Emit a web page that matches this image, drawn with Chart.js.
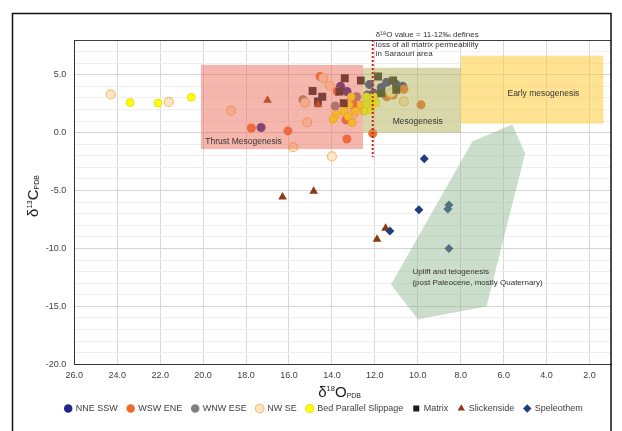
<!DOCTYPE html>
<html>
<head>
<meta charset="utf-8">
<script src="https://cdn.jsdelivr.net/npm/chart.js@4.4.1/dist/chart.umd.min.js"></script>
<style>
  body { margin: 0; background: #fff; }
  #wrap { position: relative; width: 622px; height: 431px; }
</style>
</head>
<body>
<div id="wrap"><canvas id="isoChart"></canvas></div>
<script>
// isotope values, pairs of [d18O, d13C]
const nneSsw = [[17.3, 0.45], [13.6, 4.0], [13.3, 3.55], [12.25, 4.15], [11.45, 4.35], [11.0, 4.15], [12.05, 3.4], [12.35, 3.25], [10.7, 4.0], [11.7, 3.9]];
const wswEne = [[17.75, 0.4], [16.05, 0.15], [13.3, -0.55], [12.1, -0.05], [14.55, 4.85], [13.75, 3.55], [13.35, 1.1], [10.65, 3.75], [9.85, 2.4], [11.15, 3.25], [11.45, 3.1], [13.0, 2.4]];
const wnwEse = [[15.35, 2.85], [13.85, 2.3], [12.85, 3.1]];
const nwSe = [[24.3, 3.3], [21.6, 2.65], [18.7, 1.9], [15.15, 0.9], [15.8, -1.25], [14.0, -2.05], [14.4, 4.7], [14.1, 4.05], [15.25, 2.6], [11.25, 3.45], [10.65, 2.7], [13.0, 1.6]];
const bedSlip = [[23.4, 2.6], [22.1, 2.55], [20.55, 3.05], [13.1, 3.1], [13.2, 2.4], [13.45, 1.85], [13.8, 1.55], [13.95, 1.15], [13.25, 1.4], [13.05, 0.85], [12.9, 1.85], [12.65, 2.4], [12.4, 3.1], [12.35, 2.4], [12.1, 2.7], [11.95, 2.55], [12.2, 1.95], [12.5, 1.85], [12.05, 3.1]];
const matrix = [[13.4, 4.7], [14.9, 3.6], [14.45, 3.1], [14.65, 2.7], [13.65, 3.55], [12.65, 4.5], [13.45, 2.55], [11.85, 4.85], [11.15, 4.5], [11.0, 3.7], [11.7, 3.4]];
const slickenside = [[17.0, 2.8], [14.65, 2.4], [16.3, -5.55], [14.85, -5.05], [11.5, -8.25], [11.9, -9.2]];
const speleothem = [[11.3, -8.5], [9.7, -2.25], [9.95, -6.65], [8.55, -6.25], [8.6, -6.6], [8.55, -10.0]];

const seriesNames = ['NNE SSW', 'WSW ENE', 'WNW ESE', 'NW SE', 'Bed Parallel Slippage', 'Matrix', 'Slickenside', 'Speleothem'];
const xTicks = [26, 24, 22, 20, 18, 16, 14, 12, 10, 8, 6, 4, 2];
const yTicks = [];
for (let v = -20; v <= 8; v++) yTicks.push(v);

// interpretation fields: [x from, x to, y top, y bottom]
const thrustBox = [20.1, 12.55, 5.85, -1.42];
const mesoBox = [12.55, 8.0, 5.6, 0.0];
const earlyBox = [8.0, 1.35, 6.65, 0.78];
const upliftPoly = [[5.6, 0.7], [5.0, -1.8], [6.8, -15.0], [10.0, -16.1], [11.25, -13.1], [7.45, -0.75]];
const permLine = [12.1, 8, -2.1];

const toPts = arr => arr.map(p => ({ x: p[0], y: p[1] }));

Chart.defaults.font.family = '"Liberation Sans", Arial, sans-serif';
Chart.defaults.font.size = 9;
Chart.defaults.color = '#404040';

function drawRich(ctx, parts, cx, base) {
    let w = 0;
    parts.forEach(p => {
        ctx.font = p[1] + 'px "Liberation Sans", Arial, sans-serif';
        w += ctx.measureText(p[0]).width;
    });
    let x = cx - w / 2;
    parts.forEach(p => {
        ctx.font = p[1] + 'px "Liberation Sans", Arial, sans-serif';
        ctx.fillText(p[0], x, base + p[2]);
        x += ctx.measureText(p[0]).width;
    });
}

const overlayPlugin = {
    id: 'overlay',
    beforeDraw(chart) {
        const ctx = chart.ctx;
        ctx.save();
        ctx.fillStyle = '#fff';
        ctx.fillRect(0, 0, chart.width, chart.height);
        ctx.restore();
    },
    afterDatasetsDraw(chart) {
        const { ctx, chartArea: a, scales: { x, y } } = chart;
        ctx.save();
        ctx.beginPath();
        ctx.rect(a.left, a.top, a.width, a.height);
        ctx.clip();

        function box(b, color) {
            const x1 = x.getPixelForValue(b[0]), x2 = x.getPixelForValue(b[1]);
            const y1 = y.getPixelForValue(b[2]), y2 = y.getPixelForValue(b[3]);
            ctx.fillStyle = color;
            ctx.fillRect(x1, y1, x2 - x1, y2 - y1);
        }
        box(thrustBox, 'rgba(234,104,84,0.48)');
        box(mesoBox, 'rgba(178,178,88,0.5)');
        box(earlyBox, 'rgba(255,200,40,0.5)');

        ctx.beginPath();
        upliftPoly.forEach((p, i) => {
            const px = x.getPixelForValue(p[0]), py = y.getPixelForValue(p[1]);
            if (i === 0) ctx.moveTo(px, py); else ctx.lineTo(px, py);
        });
        ctx.closePath();
        ctx.fillStyle = 'rgba(140,182,140,0.45)';
        ctx.fill();

        // permeability limit
        ctx.beginPath();
        ctx.setLineDash([2, 2]);
        ctx.strokeStyle = '#e3161b';
        ctx.lineWidth = 2;
        const lx = x.getPixelForValue(permLine[0]);
        ctx.moveTo(lx, y.getPixelForValue(permLine[1]));
        ctx.lineTo(lx, y.getPixelForValue(permLine[2]));
        ctx.stroke();
        ctx.setLineDash([]);
        ctx.restore();

        // field labels
        ctx.save();
        ctx.fillStyle = '#333';
        ctx.textBaseline = 'middle';
        ctx.font = '8.5px "Liberation Sans", Arial, sans-serif';
        ctx.textAlign = 'left';
        ctx.fillText('Thrust Mesogenesis', x.getPixelForValue(19.9), y.getPixelForValue(-0.8));
        ctx.textAlign = 'center';
        ctx.fillText('Mesogenesis', x.getPixelForValue(10.0), y.getPixelForValue(0.95));
        ctx.fillText('Early mesogenesis', x.getPixelForValue(4.15), y.getPixelForValue(3.35));
        ctx.textAlign = 'left';
        ctx.font = '8px "Liberation Sans", Arial, sans-serif';
        ctx.fillText('Uplift and telogenesis', x.getPixelForValue(10.25), y.getPixelForValue(-12.0));
        ctx.fillText('(post Paleocene, mostly Quaternary)', x.getPixelForValue(10.25), y.getPixelForValue(-13.0));
        const tx = lx + 3;
        ctx.fillText('\u03b4\u00b9\u2078O value = 11-12\u2030 defines', tx, a.top - 5);
        ctx.fillText('loss of all matrix permeability', tx, a.top + 5);
        ctx.fillText('in Saraouri area', tx, a.top + 14);
        ctx.restore();
    },
    afterDraw(chart) {
        const { ctx, chartArea: a } = chart;
        ctx.save();
        // plot top border
        ctx.strokeStyle = '#404040';
        ctx.lineWidth = 1;
        ctx.beginPath();
        ctx.moveTo(a.left, Math.round(a.top) + 0.5);
        ctx.lineTo(a.right, Math.round(a.top) + 0.5);
        ctx.stroke();
        // outer frame
        ctx.strokeStyle = '#111';
        ctx.lineWidth = 1.5;
        ctx.strokeRect(12.5, 13.5, 598.5, 440);

        // axis titles
        ctx.fillStyle = '#222';
        ctx.textBaseline = 'alphabetic';
        drawRich(ctx, [['\u03b4', 15, 0], ['18', 7.5, -6], ['O', 15, 0], ['PDB', 7, 1]], (a.left + a.right) / 2 - 3, 397);
        ctx.translate(38, 196);
        ctx.rotate(-Math.PI / 2);
        drawRich(ctx, [['\u03b4', 15, 0], ['13', 7.5, -6], ['C', 15, 0], ['PDB', 7, 1]], 0, 0);
        ctx.restore();
    }
};

const styles = [
    { bg: '#23238a', bd: '#23238a', ps: 'circle', r: 4.5, bw: 0 },
    { bg: '#ee6b2d', bd: '#ee6b2d', ps: 'circle', r: 4.5, bw: 0 },
    { bg: '#808080', bd: '#808080', ps: 'circle', r: 4.5, bw: 0 },
    { bg: '#fde7c6', bd: '#f7bd6a', ps: 'circle', r: 4.5, bw: 1.2 },
    { bg: '#ffff00', bd: '#c8c000', ps: 'circle', r: 4, bw: 0.5 },
    { bg: '#1c1c1c', bd: '#1c1c1c', ps: 'rect', r: 5.6, bw: 0 },
    { bg: '#8e3a10', bd: '#8e3a10', ps: 'triangle', r: 5, bw: 0 },
    { bg: '#1f3d7c', bd: '#1f3d7c', ps: 'rectRot', r: 4.5, bw: 0 }
];
const allSeries = [nneSsw, wswEne, wnwEse, nwSe, bedSlip, matrix, slickenside, speleothem];

const datasets = allSeries.map((s, i) => ({
    label: seriesNames[i],
    data: toPts(s),
    backgroundColor: styles[i].bg,
    borderColor: styles[i].bd,
    borderWidth: styles[i].bw,
    pointStyle: styles[i].ps,
    pointRadius: styles[i].r,
    pointHoverRadius: styles[i].r,
    order: 20 - i
}));

new Chart(document.getElementById('isoChart'), {
    type: 'scatter',
    data: { datasets: datasets },
    options: {
        responsive: true,
        maintainAspectRatio: false,
        animation: false,
        layout: { padding: { left: 37, right: 11, top: 40, bottom: 8 } },
        plugins: {
            tooltip: { enabled: false },
            legend: {
                position: 'bottom',
                labels: {
                    usePointStyle: true,
                    boxWidth: 6,
                    boxHeight: 6,
                    padding: 10,
                    color: '#404040',
                    font: { size: 9 },
                    sort: (a, b) => a.datasetIndex - b.datasetIndex
                }
            }
        },
        scales: {
            x: {
                type: 'linear',
                reverse: true,
                min: 1,
                max: 26,
                afterBuildTicks: scale => { scale.ticks = xTicks.map(v => ({ value: v })); },
                afterFit: scale => {
                    const ch = scale.chart;
                    const legH = ch.legend ? ch.legend.height : 0;
                    scale.height = ch.height - 8 - legH - 364.3;
                },
                ticks: {
                    autoSkip: false,
                    maxRotation: 0,
                    padding: 6,
                    callback: v => Number(v).toFixed(1)
                },
                grid: { color: '#d9d9d9', drawTicks: false },
                border: { color: '#333', width: 1 }
            },
            y: {
                type: 'linear',
                min: -20,
                max: 8,
                afterBuildTicks: scale => { scale.ticks = yTicks.map(v => ({ value: v })); },
                afterFit: scale => { scale.width = 37.3; },
                ticks: {
                    autoSkip: false,
                    padding: 8,
                    callback: v => (v % 5 === 0 ? Number(v).toFixed(1) : '')
                },
                grid: {
                    drawTicks: false,
                    color: c => (c.tick && c.tick.value % 5 === 0 ? '#d4d4d4' : '#efefef')
                },
                border: { color: '#333', width: 1 }
            }
        }
    },
    plugins: [overlayPlugin]
});
</script>
</body>
</html>
